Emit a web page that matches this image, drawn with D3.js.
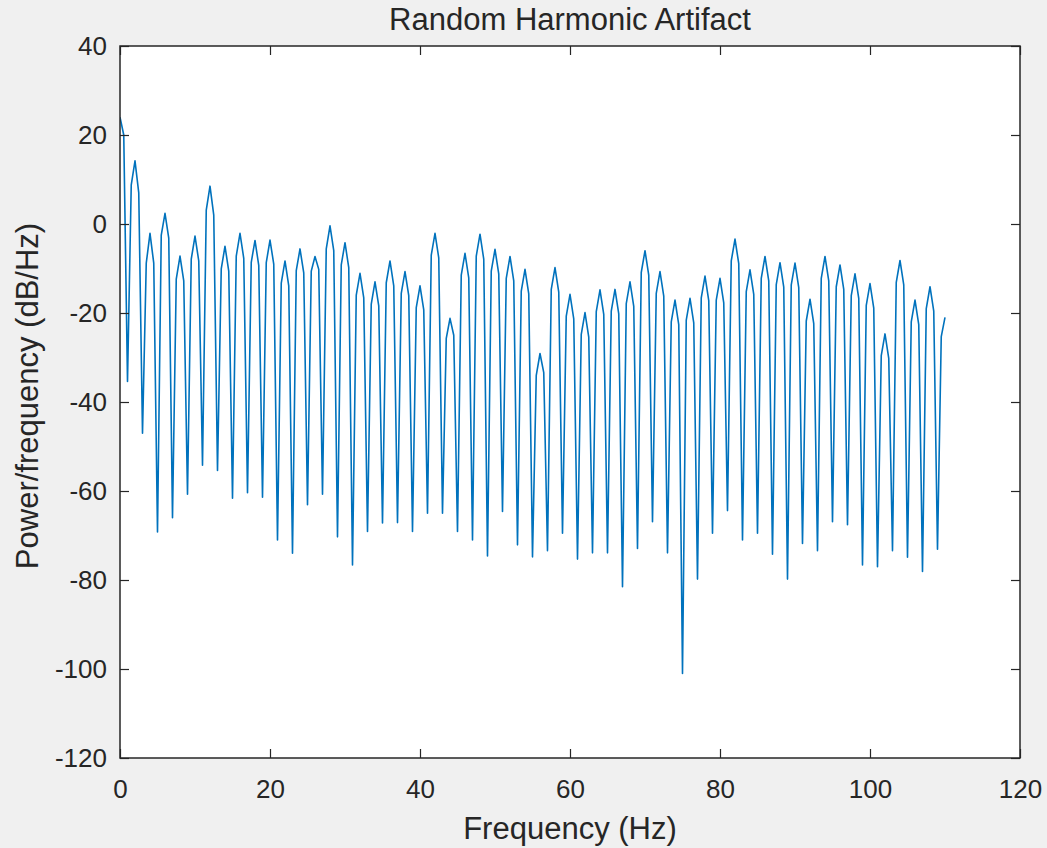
<!DOCTYPE html>
<html>
<head>
    <title>Random Harmonic Artifact</title>
    <meta charset="utf-8" />
    <script src="https://d3js.org/d3.v7.min.js"></script>
    <style>
        html, body {
            margin: 0;
            padding: 0;
            background: #f0f0f0;
        }
        svg text {
            font-family: "Liberation Sans", Arial, sans-serif;
            fill: #262626;
        }
        .trace {
            fill: none;
            stroke: #0072bd;
            stroke-width: 1.6px;
            stroke-linejoin: round;
        }
    </style>
</head>
<body>
    <div id="chart"></div>
    <script>
        // Peak levels at the even harmonics 0, 2, 4 ... 110 Hz (dB/Hz)
        var peakDb = [
            24, 14.2, -2.1, 2.4, -7.2, -2.7, 8.5, -5, -2.1, -3.7,
            -3.6, -8.3, -5.6, -7.3, -0.4, -4.2, -11.1, -13, -8.3, -10.7,
            -13.9, -2.1, -21.2, -6.6, -2.3, -5.7, -7.3, -10.2, -29.1, -9.8,
            -15.8, -19.9, -14.8, -14.7, -13, -6, -10.7, -17.1, -16.7, -11.7,
            -12.2, -3.4, -10.3, -7.3, -8.7, -8.8, -16.9, -7.3, -9.2, -11.2,
            -13.4, -24.7, -8.2, -17.1, -14.1, -21
        ];

        // Null levels at the odd frequencies 1, 3, 5 ... 109 Hz
        var nullDb = [
            -35.4, -47, -69.2, -66, -60.7, -54.2, -55.4, -61.6, -60.4, -61.4,
            -71, -74, -63.1, -60.7, -70.3, -76.6, -69.1, -67.2, -67.1, -69.1,
            -65, -65, -69.1, -71, -74.6, -64.6, -72.1, -74.8, -73.4, -69.5,
            -75.3, -73.9, -73.9, -81.5, -72.9, -66.9, -73.9, -101, -79.8, -69.5,
            -64.4, -71, -69.5, -74.2, -79.8, -71.8, -73.4, -66.9, -67.6, -76.6,
            -77, -73.4, -74.9, -78.1, -73.1
        ];

        // Shoulder samples at 0.5, 1.5 ... 109.5 Hz
        var shoulderDb = [
            20, 8.8, 7.0, -8.8, -8.8, -2.5, -3.2, -12.4, -12.8, -7.9,
            -8.3, 3.1, 2.0, -10.1, -10.6, -7.2, -7.7, -8.6, -9.3, -8.7,
            -9.0, -13.3, -13.9, -10.5, -11.0, -10.6, -10.2, -5.6, -6.0, -9.2,
            -9.8, -16.0, -16.6, -18.0, -18.4, -13.2, -13.9, -15.6, -16.1, -18.8,
            -19.3, -7.0, -7.6, -25.7, -25.0, -11.5, -12.1, -7.2, -7.9, -10.6,
            -11.2, -12.2, -12.8, -15.1, -15.7, -34.0, -33.4, -14.7, -15.3, -20.7,
            -21.3, -24.8, -25.4, -19.7, -20.3, -19.6, -20.2, -17.9, -18.5, -10.9,
            -11.5, -15.6, -16.2, -22.0, -22.6, -21.6, -22.2, -16.6, -17.2, -17.1,
            -17.7, -8.3, -8.9, -15.2, -15.8, -12.2, -12.8, -13.6, -14.2, -13.7,
            -14.3, -21.8, -22.4, -12.2, -12.8, -14.1, -14.7, -16.1, -16.7, -18.3,
            -18.9, -29.6, -30.2, -13.1, -13.7, -22.0, -22.6, -19.0, -19.6, -25.3
        ];

        var xTicks = [0, 20, 40, 60, 80, 100, 120];
        var yTicks = [-120, -100, -80, -60, -40, -20, 0, 20, 40];

        // Put the three sample sets back in frequency order (0.5 Hz steps)
        var series = [];
        for (var i = 0; i <= 220; i++) {
            var v;
            if (i % 4 === 0) v = peakDb[i / 4];
            else if (i % 4 === 2) v = nullDb[(i - 2) / 4];
            else v = shoulderDb[(i - 1) / 2];
            series.push({f: i * 0.5, db: v});
        }

        var width = 1047, height = 848;
        var margin = {top: 46, right: 27, bottom: 90, left: 120};
        var plotW = width - margin.left - margin.right;
        var plotH = height - margin.top - margin.bottom;

        var svg = d3.select("#chart").append("svg")
            .attr("width", width)
            .attr("height", height);

        svg.append("rect")
            .attr("width", width)
            .attr("height", height)
            .attr("fill", "#f0f0f0");

        var g = svg.append("g")
            .attr("transform", "translate(" + margin.left + "," + margin.top + ")");

        var x = d3.scaleLinear().domain([0, 120]).range([0, plotW]);
        var y = d3.scaleLinear().domain([-120, 40]).range([plotH, 0]);

        g.append("rect")
            .attr("width", plotW)
            .attr("height", plotH)
            .attr("fill", "#ffffff");

        g.append("clipPath").attr("id", "clip")
            .append("rect")
            .attr("width", plotW)
            .attr("height", plotH);

        var line = d3.line()
            .x(function(d) { return x(d.f); })
            .y(function(d) { return y(d.db); });

        g.append("path")
            .datum(series)
            .attr("class", "trace")
            .attr("clip-path", "url(#clip)")
            .attr("d", line);

        // Plain hyphen for negatives, as MATLAB prints them
        var plain = function(d) { return String(d); };

        // Axes: ticks point inward on all four sides, like a boxed MATLAB plot
        var tickLen = 9;
        function styleAxis(sel) {
            sel.select(".domain").remove();
            sel.selectAll(".tick line")
                .attr("stroke", "#262626")
                .attr("stroke-width", 1.2);
            sel.selectAll(".tick text")
                .style("font-size", "26px")
                .attr("fill", "#262626");
        }

        g.append("g")
            .attr("transform", "translate(0," + plotH + ")")
            .call(d3.axisBottom(x).tickValues(xTicks).tickSize(-tickLen).tickPadding(22).tickFormat(plain))
            .call(styleAxis);

        g.append("g")
            .call(d3.axisTop(x).tickValues(xTicks).tickSize(-tickLen).tickFormat(""))
            .call(styleAxis);

        g.append("g")
            .call(d3.axisLeft(y).tickValues(yTicks).tickSize(-tickLen).tickPadding(13).tickFormat(plain))
            .call(styleAxis);

        g.append("g")
            .attr("transform", "translate(" + plotW + ",0)")
            .call(d3.axisRight(y).tickValues(yTicks).tickSize(-tickLen).tickFormat(""))
            .call(styleAxis);

        g.append("rect")
            .attr("width", plotW)
            .attr("height", plotH)
            .attr("fill", "none")
            .attr("stroke", "#262626")
            .attr("stroke-width", 1.5);

        // Title and axis labels
        svg.append("text")
            .attr("x", margin.left + plotW / 2)
            .attr("y", 30)
            .attr("text-anchor", "middle")
            .style("font-size", "31px")
            .text("Random Harmonic Artifact");

        svg.append("text")
            .attr("x", margin.left + plotW / 2)
            .attr("y", 839)
            .attr("text-anchor", "middle")
            .style("font-size", "31px")
            .text("Frequency (Hz)");

        svg.append("text")
            .attr("transform", "translate(38," + (margin.top + plotH / 2 - 6) + ") rotate(-90)")
            .attr("text-anchor", "middle")
            .style("font-size", "31px")
            .text("Power/frequency (dB/Hz)");
    </script>
</body>
</html>
